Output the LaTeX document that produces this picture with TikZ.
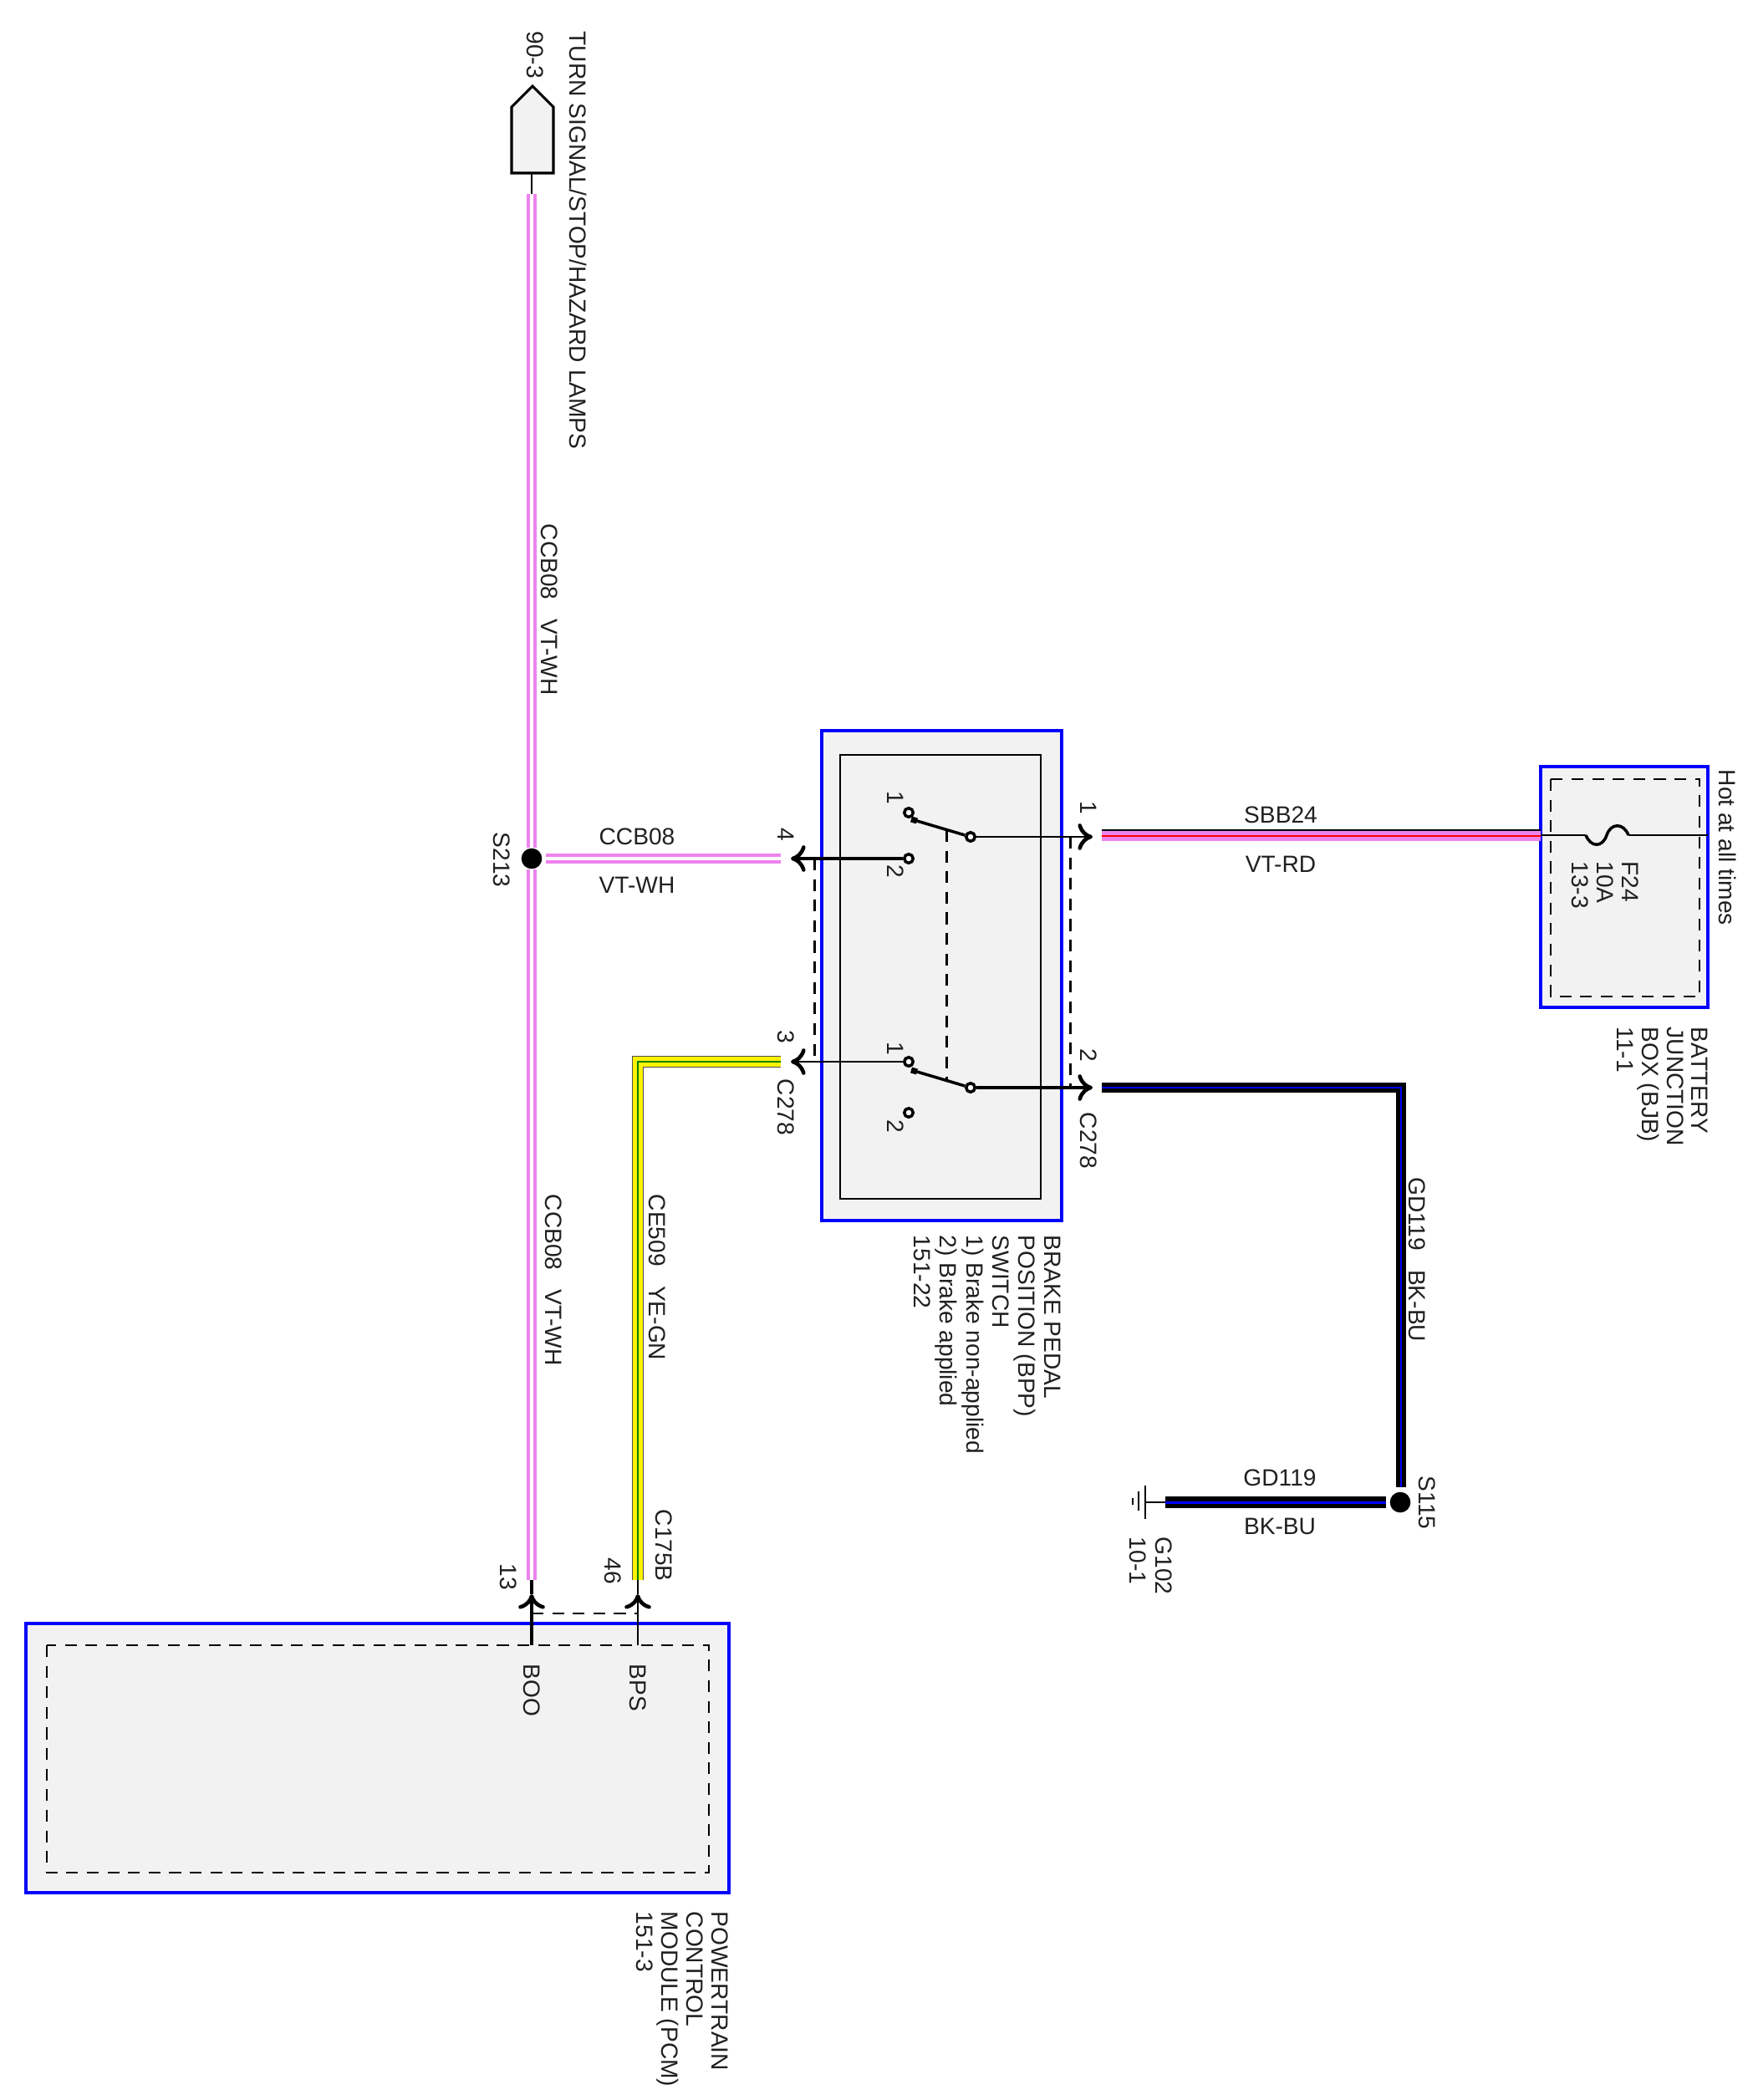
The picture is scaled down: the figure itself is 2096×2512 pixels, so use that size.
\documentclass[tikz,border=0pt]{standalone}
\usepackage{fontspec}
\setmainfont{Liberation Sans}
\usetikzlibrary{arrows.meta}
\tikzset{>=stealth}
\definecolor{wirepink}{HTML}{EE82EE}
\definecolor{boxgrey}{HTML}{F2F2F2}
\definecolor{txtgrey}{HTML}{202020}
\tikzset{
    lbl/.style = {rotate=-90, anchor=west, inner sep=0pt, text=txtgrey, font=\fontsize{8}{8.5}\selectfont},
    lblm/.style = {lbl, anchor=north west, align=left},
    lblh/.style = {inner sep=0pt, text=txtgrey, font=\fontsize{8}{8.5}\selectfont},
    module/.style = {draw=blue, fill=boxgrey, line width=1.1pt},
    inbox/.style = {draw, dashed, dash pattern=on 4pt off 3pt, line width=.7pt},
    tie/.style = {dashed, dash pattern=on 4pt off 3pt, line width=.85pt},
    vtwh/.style = {draw=wirepink, double=white, line width=1.25pt, double distance=1pt},
    vtrd/.style = {draw=wirepink, double=red, line width=1.25pt, double distance=.8pt},
    bkbu/.style = {draw=black, double=blue, line width=1.3pt, double distance=.8pt},
    bkbuh/.style = {draw=black, double=blue, line width=1.7pt, double distance=.85pt},
    yegn/.style = {preaction={draw=black!70, line width=4.1pt}, draw=yellow, double=green!50!black, line width=1.5pt, double distance=.65pt},
    thinw/.style = {line width=.6pt},
    thickw/.style = {line width=1.4pt},
    pinl/.style = {-{Computer Modern Rightarrow[length=5pt, width=9pt, line width=1.3pt]}},
    contact/.style = {circle, draw, fill=white, line width=1pt, inner sep=0pt, minimum size=3pt},
    splice/.style = {circle, fill=black, inner sep=0pt, minimum size=7pt},
}
\begin{document}
\begin{tikzpicture}[x=0.01cm, y=-0.01cm]
    \useasboundingbox (0,0) rectangle (2096,2512);
    % modules
    \path[module] (983,874) rectangle (1270,1460);
    \draw[line width=.7pt] (1005,903) rectangle (1245,1434);
    \path[module, line width=.9pt] (1843,917) rectangle (2043,1205);
    \draw[inbox] (1855,932) rectangle (2033,1192);
    \path[module] (31,1942) rectangle (872,2264);
    \draw[inbox] (56,1968) rectangle (848,2240);
    % points
    \coordinate (W1) at (636,232);
    \coordinate (W2) at (636,1890);
    \coordinate (W3) at (653,1027);
    \coordinate (W4) at (934,1027);
    \coordinate (W5) at (934,1270);
    \coordinate (W6) at (763,1270);
    \coordinate (W7) at (763,1890);
    \coordinate (W8) at (1318,1000);
    \coordinate (W9) at (1843,1000);
    \coordinate (W10) at (1318,1301);
    \coordinate (W11) at (1676,1301);
    \coordinate (W12) at (1676,1779);
    \coordinate (W13) at (1658,1797);
    \coordinate (W14) at (1394,1797);
    \coordinate (T1) at (1318,993);
    \coordinate (T2) at (1843,993);
    \coordinate (A1) at (946,1027);
    \coordinate (A2) at (946,1270);
    \coordinate (A3) at (1307,1001);
    \coordinate (A4) at (1307,1301);
    \coordinate (A5) at (636,1907);
    \coordinate (A6) at (763,1907);
    \coordinate (B1) at (636,1968);
    \coordinate (B2) at (763,1968);
    \coordinate (F1) at (1843,999);
    \coordinate (F2) at (1897,999);
    \coordinate (F3) at (1948,999);
    \coordinate (F4) at (2043,999);
    \coordinate (G1) at (1370,1797);
    % splices and contacts
    \node (S213) at (636,1027) [splice] {};
    \node (S115) at (1675,1797) [splice] {};
    \node (C11) at (1087,972) [contact] {};
    \node (C12) at (1087,1027) [contact] {};
    \node (C21) at (1087,1270) [contact] {};
    \node (C22) at (1087,1331) [contact] {};
    \node (C1P) at (1161,1001) [contact] {};
    \node (C2P) at (1161,1301) [contact] {};
    % wires
    \draw[vtwh] (W1) -- (S213);
    \draw[vtwh] (S213) -- (W2);
    \draw[vtwh] (W3) -- (W4);
    \draw[yegn] (W5) -- (W6) -- (W7);
    \draw[vtrd] (W8) -- (W9);
    \draw[line width=.8pt] (T1) -- (T2);
    \draw[bkbu] (W10) -- (W11) -- (W12);
    \draw[bkbuh] (W13) -- (W14);
    % switch
    \draw[thickw, pinl] (C12) -- (A1);
    \draw[thinw, pinl] (C21) -- (A2);
    \draw[thinw, pinl] (C1P) -- (A3);
    \draw[thickw, pinl] (C2P) -- (A4);
    \draw[line width=1pt] (C1P) -- (1097,982) coordinate (Q1);
    \draw[line width=1pt] (C2P) -- (1097,1282) coordinate (Q2);
    \draw[line width=2pt] (Q1) -- (1090,980);
    \draw[line width=2pt] (Q2) -- (1090,1280);
    \draw[tie] (1132,993) coordinate (D1) -- (1132,1293) coordinate (D2);
    \draw[tie] (974,1027) coordinate (D3) -- (974,1270) coordinate (D4);
    \draw[tie] (1280,1001) coordinate (D5) -- (1280,1301) coordinate (D6);
    % pcm pins
    \draw[thickw, pinl] (B1) -- (A5);
    \draw[thickw] (A5) -- (W2);
    \draw[thinw, pinl] (B2) -- (A6);
    \draw[thinw] (A6) -- (W7);
    \draw[tie, line width=.7pt] (A5 |- 0,1930) coordinate (D7) -- (A6 |- 0,1930) coordinate (D8);
    % fuse
    \draw[thinw] (F1) -- (F2);
    \draw[line width=1pt] (F2) .. controls (1903,1014) and (1917,1014) .. (1922,999) .. controls (1927,984) and (1942,984) .. (F3);
    \draw[thinw] (F3) -- (F4);
    % ground
    \draw[thinw] (G1) -- (W14);
    \draw[line width=.8pt] (1370,1777) coordinate (G2) -- (1370,1817) coordinate (G3);
    \draw[line width=.8pt] (1362,1784) coordinate (G4) -- (1362,1807) coordinate (G5);
    \draw[line width=.8pt] (1355,1792) coordinate (G6) -- (1355,1800) coordinate (G7);
    % connector
    \draw[fill=boxgrey, line width=.9pt] (612,207) -- (612,128) -- (637,103) -- (662,128) -- (662,207) -- cycle;
    \coordinate (E1) at (636,207);
    \draw[thinw] (E1) -- (W1);
    % labels
    \node (L1) at (640,37) [lbl] {90-3};
    \node (L2) at (692,37) [lbl] {TURN SIGNAL/STOP/HAZARD LAMPS};
    \node (L3) at (657,626) [lbl] {CCB08\ \ \ VT-WH};
    \node (L4) at (662,1428) [lbl] {CCB08\ \ \ VT-WH};
    \node (L5) at (600,995) [lbl] {S213};
    \node (L6) at (762,1001) [lblh] {CCB08};
    \node (L7) at (762,1059) [lblh] {VT-WH};
    \node (L8) at (940,990) [lbl] {4};
    \node (L9) at (940,1232) [lbl] {3};
    \node (L10) at (940,1290) [lbl] {C278};
    \node (L11) at (1302,958) [lbl] {1};
    \node (L12) at (1302,1254) [lbl] {2};
    \node (L13) at (1302,1330) [lbl] {C278};
    \node (L14) at (1071,946) [lbl] {1};
    \node (L15) at (1071,1034) [lbl] {2};
    \node (L16) at (1071,1246) [lbl] {1};
    \node (L17) at (1071,1339) [lbl] {2};
    \node (L18) at (1532,975) [lblh] {SBB24};
    \node (L19) at (1532,1034) [lblh] {VT-RD};
    \node (L20) at (2067,920) [lbl] {Hot at all times};
    \node (L21) at (1961,1030) [lblm] {F24\\10A\\13-3};
    \node (L22) at (2044,1228) [lblm] {BATTERY\\JUNCTION\\BOX (BJB)\\11-1};
    \node (L23) at (1270,1477) [lblm, font=\fontsize{8}{8.9}\selectfont] {BRAKE PEDAL\\POSITION (BPP)\\SWITCH\\1) Brake non-applied\\2) Brake applied\\151-22};
    \node (L24) at (786,1428) [lbl] {CE509\ \ \ YE-GN};
    \node (L25) at (794,1805) [lbl] {C175B};
    \node (L26) at (733,1863) [lbl] {46};
    \node (L27) at (608,1870) [lbl] {13};
    \node (L28) at (636,1990) [lbl] {BOO};
    \node (L29) at (763,1990) [lbl] {BPS};
    \node (L30) at (872,2286) [lblm] {POWERTRAIN\\CONTROL\\MODULE (PCM)\\151-3};
    \node (L31) at (1695,1408) [lbl] {GD119\ \ \ BK-BU};
    \node (L32) at (1707,1765) [lbl] {S115};
    \node (L33) at (1531,1768) [lblh] {GD119};
    \node (L34) at (1531,1826) [lblh] {BK-BU};
    \node (L35) at (1403,1838) [lblm, font=\fontsize{8}{9}\selectfont] {G102\\10-1};
\end{tikzpicture}
\end{document}
